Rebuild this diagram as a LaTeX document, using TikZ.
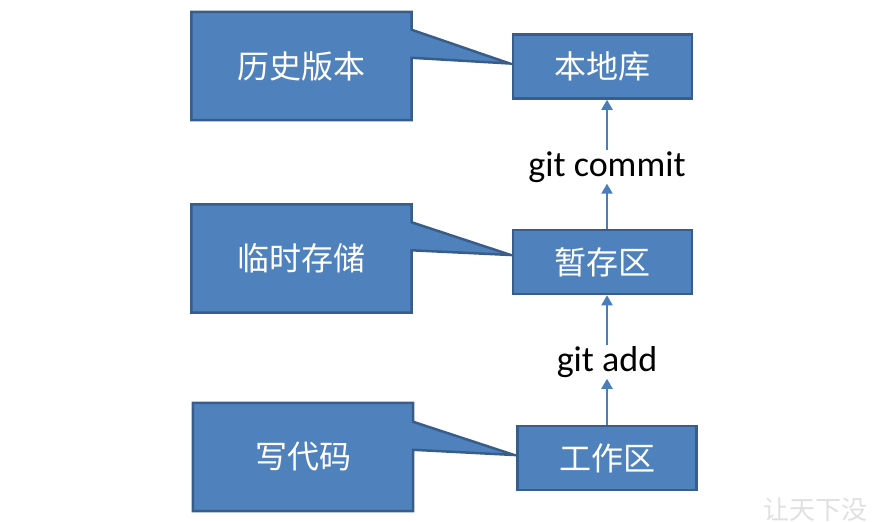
\documentclass[tikz,border=0pt]{standalone}
\usepackage{fontspec}
\setmainfont{Carlito}
\newfontfamily\cjk{Noto Sans CJK SC}
\usetikzlibrary{arrows.meta,positioning,backgrounds}

\definecolor{boxfill}{HTML}{4F81BD}
\definecolor{boxline}{HTML}{385D8A}
\definecolor{arrowblue}{HTML}{4A7EBB}

\begin{document}
\begin{tikzpicture}[
    x=1pt, y=-1pt,
    area/.style={rectangle, draw=boxline, fill=boxfill, line width=2.5pt,
                 minimum width=179pt, minimum height=64pt,
                 text=white, font=\cjk\fontsize{32}{38}\selectfont},
    note/.style={rectangle, minimum width=220pt, minimum height=108pt,
                 text=white, font=\cjk\fontsize{32}{38}\selectfont},
    noteline/.style={draw=boxline, fill=boxfill, line width=2.5pt},
    cmd/.style={font=\fontsize{36}{42}\selectfont, inner sep=1pt},
    flow/.style={-{Triangle[width=11pt,length=10pt]}, draw=arrowblue, line width=2pt},
    wmark/.style={font=\cjk\fontsize{26}{30}\selectfont, text=black!12, anchor=west}
]
\useasboundingbox (0,0) rectangle (881,522);

% Areas
\node[area] (repo)  at (602.5,66.5) {本地库};
\node[area] (stage) at (602.5,262)  {暂存区};
\node[area] (work)  at (607,458)    {工作区};

% Notes
\node[note] (hist) at (301.5,66)   {历史版本};
\node[note] (temp) at (301.5,258.5) {临时存储};
\node[note] (code) at (303,457)    {写代码};

\begin{scope}[on background layer]
\draw[noteline] (hist.north west) -- (hist.north east) -- ([yshift=-18pt]hist.north east)
    -- ([shift={(-2pt,3pt)}]repo.west) -- ([yshift=-46pt]hist.north east)
    -- (hist.south east) -- (hist.south west) -- cycle;
\draw[noteline] (temp.north west) -- (temp.north east) -- ([yshift=-18pt]temp.north east)
    -- ([shift={(-1pt,7pt)}]stage.west) -- ([yshift=-46pt]temp.north east)
    -- (temp.south east) -- (temp.south west) -- cycle;
\draw[noteline] (code.north west) -- (code.north east) -- ([yshift=-19pt]code.north east)
    -- ([shift={(-2pt,3pt)}]work.west) -- ([yshift=-47pt]code.north east)
    -- (code.south east) -- (code.south west) -- cycle;
\end{scope}

% Commands
\node[cmd] (commit) at (607,167) {git commit};
\node[cmd] (add)    at (607,362) {git add};

\draw[flow] (commit.south |- stage.north) -- (commit.south);
\draw[flow] (commit.north) -- (commit.north |- repo.south);
\draw[flow] (add.south |- work.north) -- (add.south);
\draw[flow] (add.north) -- (add.north |- stage.south);

% Watermark
\node[wmark] (wm) at (760,510) {让天下没};

\end{tikzpicture}
\end{document}
